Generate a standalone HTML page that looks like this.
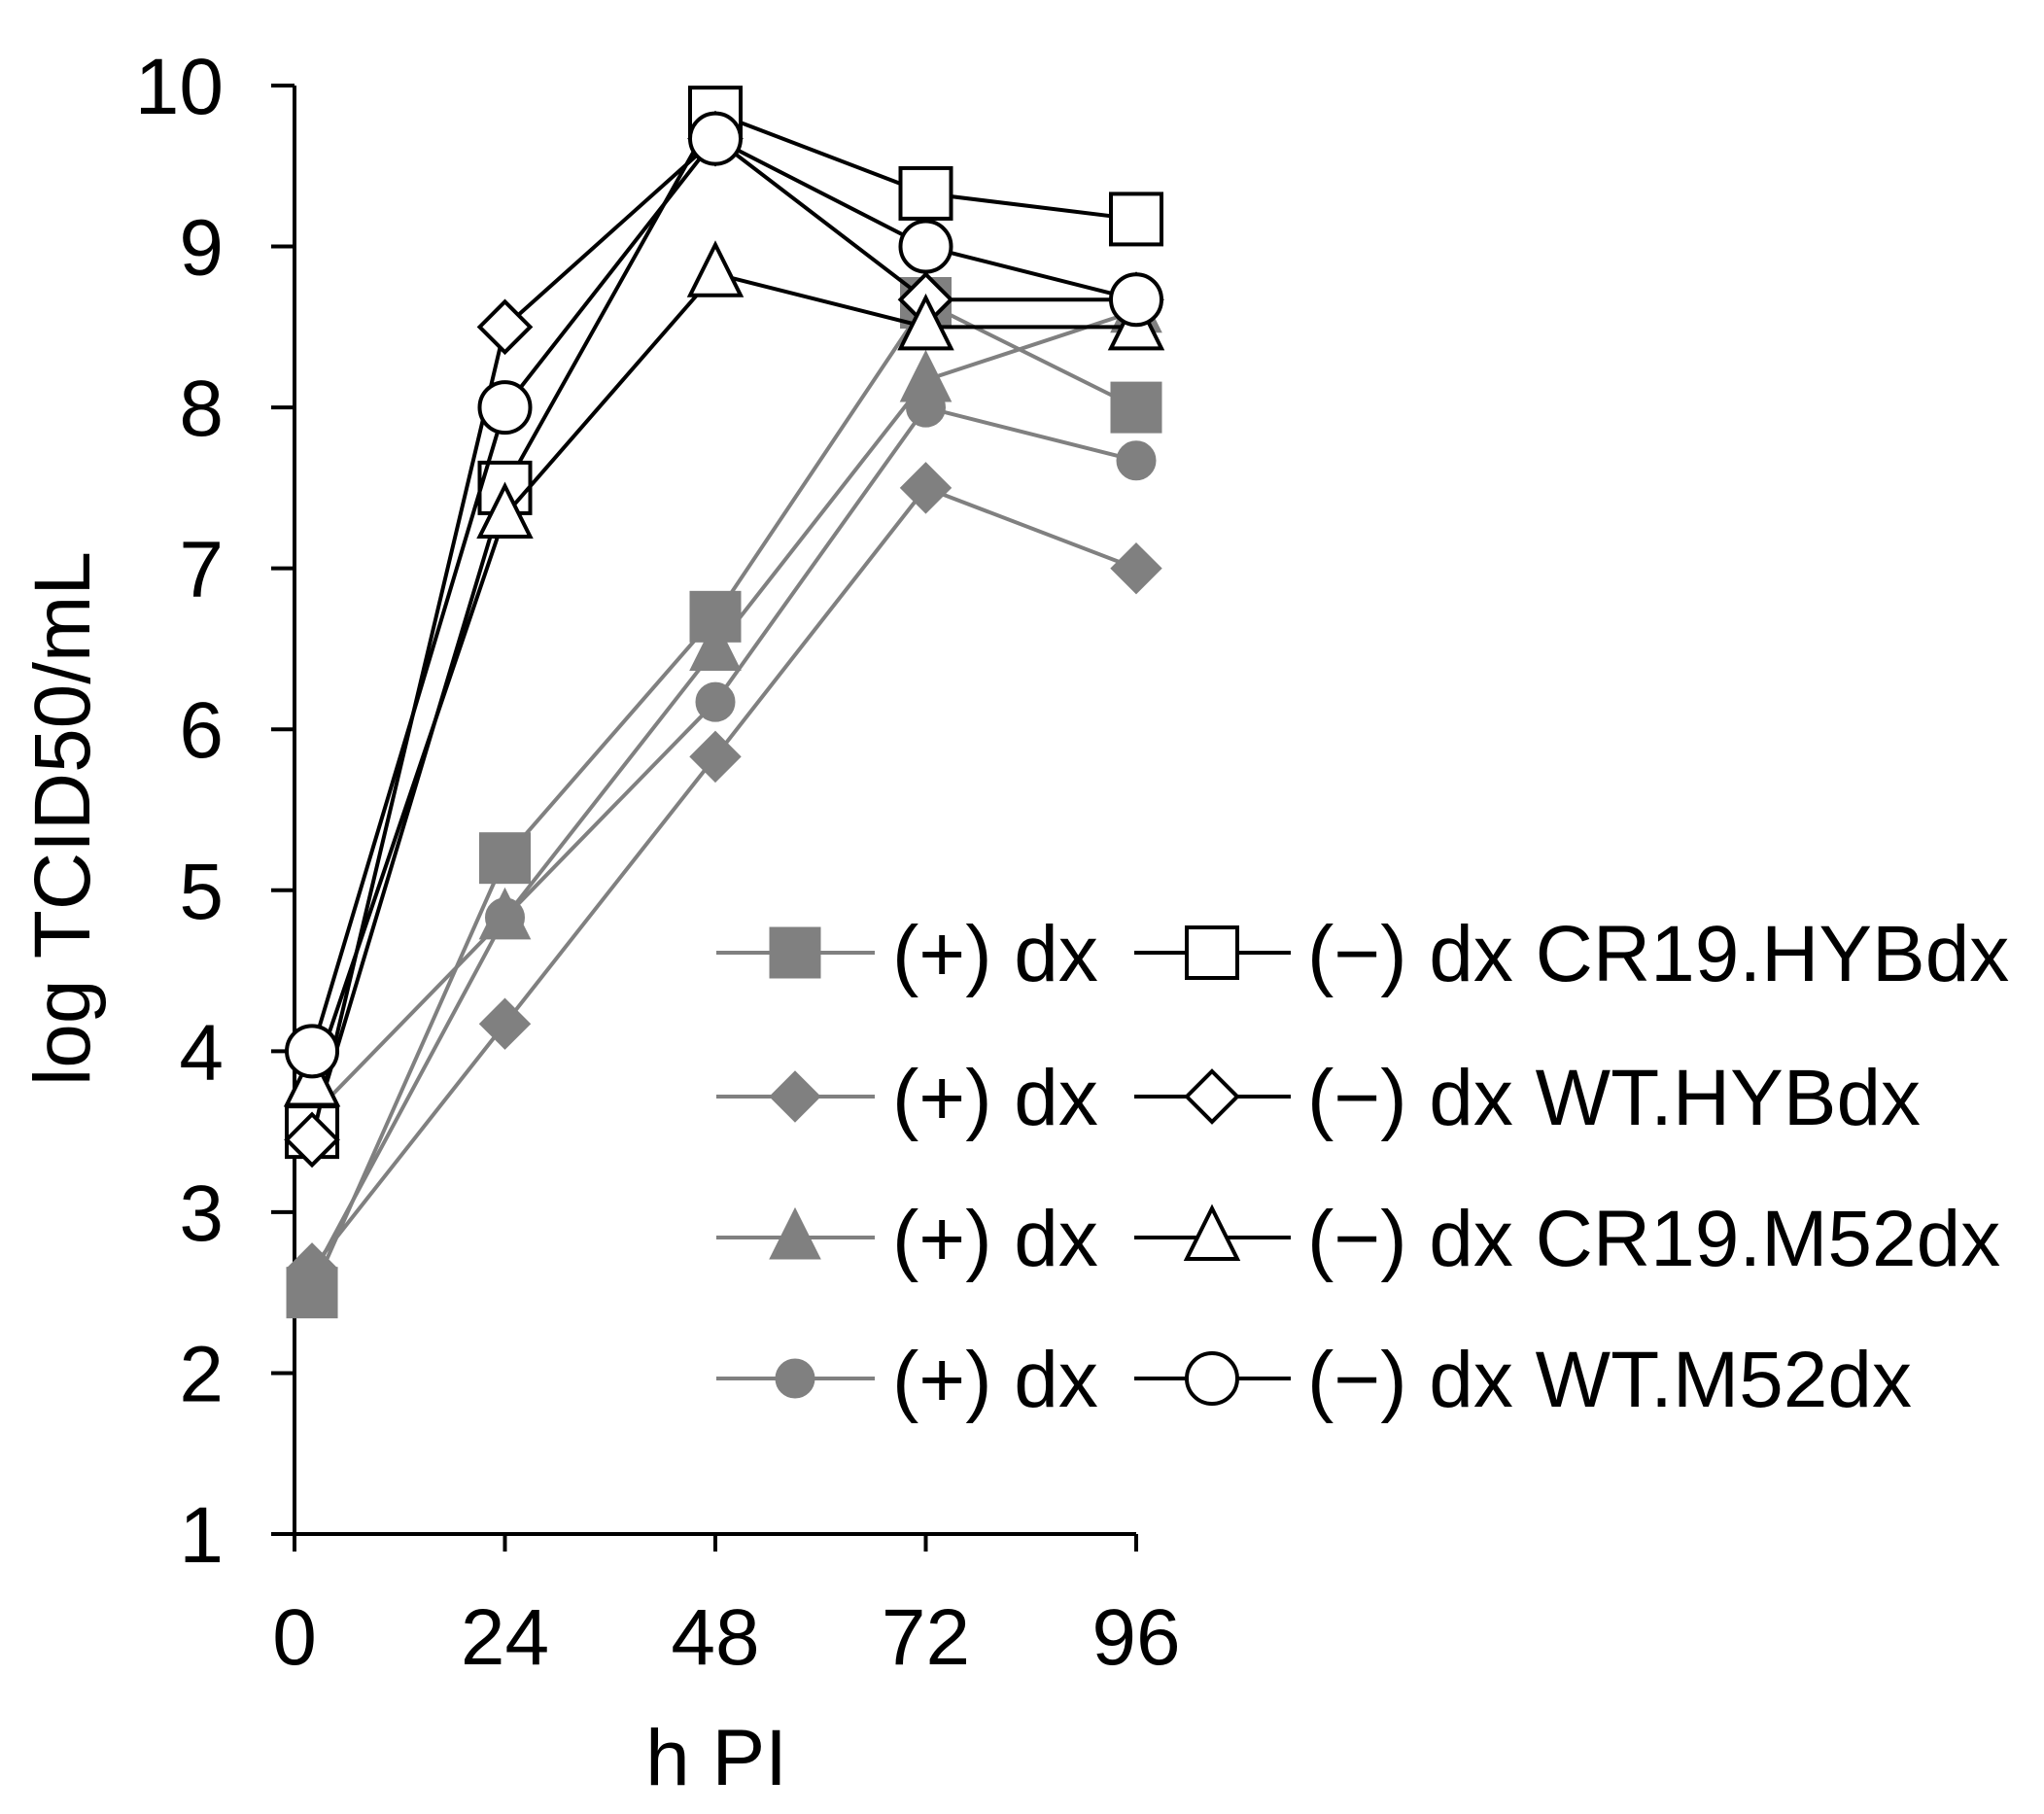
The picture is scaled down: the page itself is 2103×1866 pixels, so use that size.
<!DOCTYPE html>
<html><head><meta charset="utf-8"><style>
html,body{margin:0;padding:0;background:#fff}
svg{display:block;font-family:"Liberation Sans",sans-serif}
</style></head><body>
<svg id="chart" width="2103" height="1866" viewBox="0 0 2103 1866" xmlns="http://www.w3.org/2000/svg">
<g id="axes"></g>
<g id="series"></g>
<g id="legend"></g>
<text transform="translate(92,842) rotate(-90)" text-anchor="middle" font-size="82">log TCID50/mL</text>
<text x="737" y="1836" text-anchor="middle" font-size="82">h PI</text>
</svg>
<script>
const xTicks=[0,24,48,72,96];
const yTicks=[1,2,3,4,5,6,7,8,9,10];
const hours=[2,24,48,72,96];
const plusCR19HYB=[2.5,5.2,6.7,8.65,8.0];
const plusWTHYB=[2.65,4.17,5.83,7.5,7.0];
const plusCR19M52=[3.6,4.83,6.5,8.17,8.6];
const plusWTM52=[2.6,4.83,6.17,8.0,7.67];
const minusCR19HYB=[3.5,7.5,9.83,9.33,9.17];
const minusWTHYB=[3.45,8.5,9.67,8.67,8.67];
const minusCR19M52=[3.8,7.33,8.83,8.5,8.5];
const minusWTM52=[4.0,8.0,9.67,9.0,8.67];
const legendNames=["CR19.HYBdx","WT.HYBdx","CR19.M52dx","WT.M52dx"];

const NS="http://www.w3.org/2000/svg";
const X0=303,XW=866;const Y0=1578,YH=1490;
function xs(h){return X0+h/96*XW;}
function ys(v){return Y0-(v-1)/9*YH;}
function mk(t,a,p){const e=document.createElementNS(NS,t);for(const k in a)e.setAttribute(k,a[k]);p.appendChild(e);return e;}
const axes=document.getElementById('axes');
let e=mk('line',{x1:X0,y1:ys(10),x2:X0,y2:Y0,stroke:'#000','stroke-width':4},axes);


e=mk('line',{x1:X0,y1:Y0,x2:xs(96),y2:Y0,stroke:'#000','stroke-width':4},axes);


yTicks.forEach(v=>{
 const t=mk('line',{x1:X0-24,y1:ys(v),x2:X0,y2:ys(v),stroke:'#000','stroke-width':4},axes);
 
 
 const l=mk('text',{x:230,y:ys(v)+29,'text-anchor':'end','font-size':82},axes);l.textContent=v;
 
 
});
xTicks.forEach(h=>{
 const t=mk('line',{x1:xs(h),y1:Y0,x2:xs(h),y2:Y0+18,stroke:'#000','stroke-width':4},axes);
 
 
 const l=mk('text',{x:xs(h),y:1712,'text-anchor':'middle','font-size':82},axes);l.textContent=h;
 
 
});
function marker(shape,filled,cx,cy,p){
 const col=filled?'#808080':'#000';const fill=filled?'#808080':'#fff';
 const st={fill:fill,stroke:col,'stroke-width':filled?1:4};
 let m;
 if(shape==='sq'){m=mk('rect',Object.assign({x:cx-26,y:cy-26,width:52,height:52},st),p);}
 else if(shape==='di'){m=mk('polygon',Object.assign({points:`${cx},${cy-26} ${cx+26},${cy} ${cx},${cy+26} ${cx-26},${cy}`},st),p);}
 else if(shape==='tr'){m=mk('polygon',Object.assign({points:`${cx},${cy-30} ${cx+26},${cy+22} ${cx-26},${cy+22}`},st),p);}
 else {m=mk('circle',Object.assign({cx:cx,cy:cy,r:filled?20:26},st),p);}
 return m;
}
const sg=document.getElementById('series');
const defs=[
 [plusCR19HYB,'sq',true,'plus-cr19-hyb'],[plusWTHYB,'di',true,'plus-wt-hyb'],
 [plusCR19M52,'tr',true,'plus-cr19-m52'],[plusWTM52,'ci',true,'plus-wt-m52'],
 [minusCR19HYB,'sq',false,'minus-cr19-hyb'],[minusWTHYB,'di',false,'minus-wt-hyb'],
 [minusCR19M52,'tr',false,'minus-cr19-m52'],[minusWTM52,'ci',false,'minus-wt-m52']];
defs.forEach(([vals,shape,filled,name])=>{
 const g=mk('g',{},sg);
 
 
 const pl=mk('polyline',{points:vals.map((v,i)=>xs(hours[i])+','+ys(v)).join(' '),fill:'none',stroke:filled?'#808080':'#000','stroke-width':4},g);
 
 
 vals.forEach((v,i)=>{const m=marker(shape,filled,xs(hours[i]),ys(v),g);
  
  });
});
const lg=document.getElementById('legend');
const shapes=['sq','di','tr','ci'];const rows=[980,1128,1273,1418];
shapes.forEach((s,i)=>{
 const y=rows[i];
 const g=mk('g',{},lg);
 
 
 mk('line',{x1:737,y1:y,x2:900,y2:y,stroke:'#808080','stroke-width':4},g);
 marker(s,true,818,y,g);
 let t=mk('text',{x:918,y:y+29,'font-size':82},g);t.textContent='(+) dx';
 mk('line',{x1:1167,y1:y,x2:1328,y2:y,stroke:'#000','stroke-width':4},g);
 marker(s,false,1247,y,g);
 t=mk('text',{x:1345,y:y+29,'font-size':82},g);t.textContent='(\u2212) dx '+legendNames[i];
});
</script>
</body></html>
